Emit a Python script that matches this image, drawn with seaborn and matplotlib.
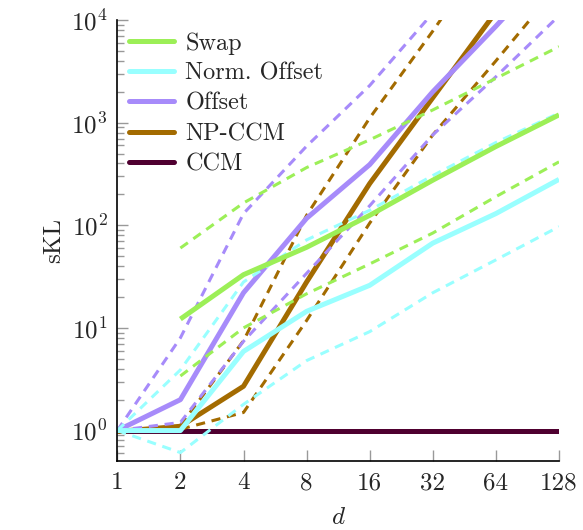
import numpy as np
import pandas as pd
import matplotlib
matplotlib.use("Agg")
import matplotlib.pyplot as plt
import seaborn as sns
from matplotlib.lines import Line2D
from matplotlib.ticker import FixedLocator, FixedFormatter, LogLocator, NullFormatter

# ---- data ----
d = [1, 2, 4, 8, 16, 32, 64, 128]
d_swap = [2, 4, 8, 16, 32, 64, 128]

swap = [12.2, 33, 61, 125, 275, 585, 1190]
swap_hi = [60, 165, 365, 680, 1330, 2700, 5500]
swap_lo = [3.4, 10, 21.5, 42, 84, 190, 415]

norm_offset = [1, 1, 5.9, 14.5, 26, 67, 130, 280]
norm_offset_hi = [1, 3.9, 28, 72, 140, 305, 640, 1240]
norm_offset_lo = [1, 0.61, 1.8, 4.8, 9.2, 22, 46, 97]

offset = [1, 2.0, 22, 117, 390, 2000, 8700, 40000]
offset_hi = [1, 8.0, 130, 590, 2300, 11700, 50000, 200000]
offset_lo = [1, 1.2, 7.4, 34, 155, 760, 2800, 11000]

np_ccm = [0.98, 1.1, 2.7, 28, 255, 1750, 12000, 150000]
np_ccm_hi = [1, 1.12, 7.5, 125, 1110, 7800, 60000, 400000]
np_ccm_lo = [1, 1.03, 1.5, 11.8, 105, 760, 4000, 22000]

ccm = [1, 1, 1, 1, 1, 1, 1, 1]

labels = ["Swap", "Norm. Offset", "Offset", "NP-CCM", "CCM"]
colors = {"Swap": "#9CEF57", "Norm. Offset": "#99FFFF", "Offset": "#A78BFA",
          "NP-CCM": "#A36B00", "CCM": "#4F0030"}

x_ticks = [1, 2, 4, 8, 16, 32, 64, 128]
x_ticklabels = ["1", "2", "4", "8", "16", "32", "64", "128"]
y_ticks = [1, 10, 100, 1000, 10000]
y_ticklabels = [r"$10^{0}$", r"$10^{1}$", r"$10^{2}$", r"$10^{3}$", r"$10^{4}$"]

# ---- style ----
sns.set_style("white")
plt.rcParams["font.family"] = ["serif"]
plt.rcParams["font.serif"] = ["cmr10", "DejaVu Serif"]
plt.rcParams["mathtext.fontset"] = "cm"
plt.rcParams["axes.formatter.use_mathtext"] = True

fig = plt.figure(figsize=(5.83, 5.30), dpi=100)
ax = fig.add_axes([117.3 / 583, 69 / 530, (559 - 117.3) / 583, (461 - 20) / 530])

SOLID_LW = 3.6
DASH_LW = 2.2
DASH = (0, (3.0, 2.2))

series = [
    ("CCM", d, ccm, None, None),
    ("NP-CCM", d, np_ccm, np_ccm_hi, np_ccm_lo),
    ("Offset", d, offset, offset_hi, offset_lo),
    ("Norm. Offset", d, norm_offset, norm_offset_hi, norm_offset_lo),
    ("Swap", d_swap, swap, swap_hi, swap_lo),
]

for name, xs, mid, hi, lo in series:
    c = colors[name]
    if hi is not None:
        for band in (hi, lo):
            df = pd.DataFrame({"d": xs, "v": band})
            sns.lineplot(data=df, x="d", y="v", ax=ax, color=c, lw=DASH_LW,
                         linestyle=DASH, estimator=None, legend=False)
    df = pd.DataFrame({"d": xs, "v": mid})
    sns.lineplot(data=df, x="d", y="v", ax=ax, color=c, lw=SOLID_LW,
                 estimator=None, legend=False, solid_capstyle="butt")

ax.set_xscale("log", base=2)
ax.set_yscale("log")
ax.set_xlim(1, 128)
ax.set_ylim(0.505, 1e4)

ax.xaxis.set_major_locator(FixedLocator(x_ticks))
ax.xaxis.set_major_formatter(FixedFormatter(x_ticklabels))
ax.xaxis.set_minor_locator(FixedLocator([]))
ax.yaxis.set_major_locator(FixedLocator(y_ticks))
ax.yaxis.set_major_formatter(FixedFormatter(y_ticklabels))
ax.yaxis.set_minor_locator(LogLocator(base=10, subs=np.arange(2, 10), numticks=20))
ax.yaxis.set_minor_formatter(NullFormatter())

ax.tick_params(axis="both", which="both", bottom=True, left=True, top=False, right=False)
ax.tick_params(axis="both", which="major", direction="in", length=8, width=1,
               color="#999999", labelsize=18, pad=7)
ax.tick_params(axis="y", which="minor", direction="in", length=5, width=1,
               color="#999999")
ax.tick_params(axis="x", which="major", pad=8)

for s in ("top", "right"):
    ax.spines[s].set_visible(False)
for s in ("left", "bottom"):
    ax.spines[s].set_color("black")
    ax.spines[s].set_linewidth(1.2)

ax.set_xlabel(r"$d$", fontsize=18, labelpad=9)
ax.set_ylabel("sKL", fontsize=18, labelpad=4)

handles = [Line2D([0], [0], color=colors[n], lw=SOLID_LW) for n in labels]
ax.legend(handles, labels, loc="upper left", bbox_to_anchor=(0.0, 1.0),
          frameon=False, fontsize=17.5, handlelength=1.85, handletextpad=0.45,
          labelspacing=0.33, borderaxespad=0.25, borderpad=0.25)

fig.savefig("out.png", dpi=100)
